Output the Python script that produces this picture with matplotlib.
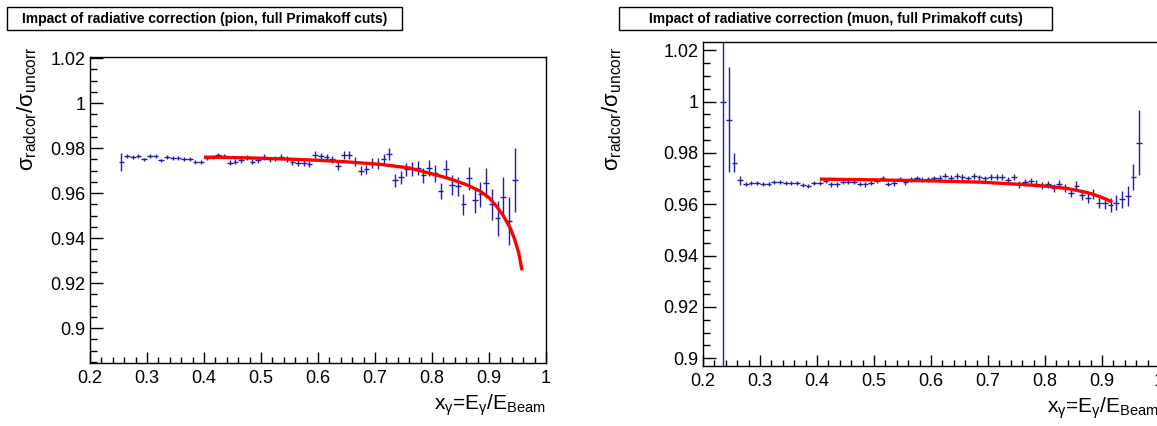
import numpy as np
import matplotlib
matplotlib.use("Agg")
import matplotlib.pyplot as plt
from matplotlib.patches import Rectangle
from matplotlib.ticker import MultipleLocator, FuncFormatter

plt.rcParams['font.family'] = ['Liberation Sans', 'DejaVu Sans']
plt.rcParams['mathtext.fontset'] = 'custom'
plt.rcParams['mathtext.rm'] = 'Liberation Sans'
plt.rcParams['mathtext.it'] = 'Liberation Sans'
plt.rcParams['mathtext.default'] = 'regular'

# ---------------- data: pion ----------------
pion_x = np.round(np.arange(0.255, 0.950, 0.01), 3)
pion_y = [
    0.9740, 0.9765, 0.9760, 0.9765, 0.9750, 0.9765, 0.9765, 0.9745, 0.9760, 0.9755,
    0.9755, 0.9750, 0.9750, 0.9740, 0.9740, 0.9755, 0.9760, 0.9770, 0.9765, 0.9735,
    0.9740, 0.9745, 0.9760, 0.9740, 0.9745, 0.9760, 0.9750, 0.9755, 0.9760, 0.9750,
    0.9740, 0.9735, 0.9735, 0.9730, 0.9770, 0.9765, 0.9760, 0.9750, 0.9720, 0.9770,
    0.9770, 0.9740, 0.9700, 0.9705, 0.9735, 0.9730, 0.9750, 0.9775, 0.9657, 0.9671,
    0.9705, 0.9708, 0.9712, 0.9679, 0.9712, 0.9688, 0.9609, 0.9705, 0.9636, 0.9631,
    0.9550, 0.9665, 0.9568, 0.9594, 0.9646, 0.9550, 0.9488, 0.9582, 0.9476, 0.9657,
]
pion_err = [
    0.0040, 0.0008, 0.0008, 0.0008, 0.0008, 0.0008, 0.0008, 0.0008, 0.0008, 0.0008,
    0.0009, 0.0009, 0.0009, 0.0009, 0.0009, 0.0010, 0.0010, 0.0010, 0.0010, 0.0010,
    0.0011, 0.0011, 0.0011, 0.0011, 0.0012, 0.0012, 0.0012, 0.0012, 0.0013, 0.0013,
    0.0013, 0.0014, 0.0014, 0.0014, 0.0015, 0.0015, 0.0016, 0.0016, 0.0017, 0.0017,
    0.0018, 0.0019, 0.0020, 0.0021, 0.0022, 0.0024, 0.0025, 0.0026, 0.0028, 0.0029,
    0.0028, 0.0030, 0.0030, 0.0032, 0.0034, 0.0038, 0.0036, 0.0044, 0.0045, 0.0042,
    0.0047, 0.0053, 0.0057, 0.0057, 0.0066, 0.0070, 0.0077, 0.0090, 0.0106, 0.0142,
]
pion_fit_x = [0.40, 0.45, 0.50, 0.55, 0.60, 0.65, 0.709, 0.76, 0.826, 0.86, 0.884,
              0.90, 0.913, 0.925, 0.937, 0.945, 0.952, 0.958]
pion_fit_y = [0.9760, 0.9758, 0.9755, 0.9751, 0.9746, 0.9739, 0.9728, 0.9712, 0.9668,
              0.9638, 0.9609, 0.9580, 0.9542, 0.9500, 0.9446, 0.9395, 0.9335, 0.9257]

# ---------------- data: muon ----------------
muon_x = np.round(np.arange(0.235, 0.970, 0.01), 3)
muon_y = [
    1.0000, 0.9930, 0.9762,
    0.9693, 0.9680, 0.9683, 0.9684, 0.9680, 0.9680, 0.9688, 0.9685, 0.9683, 0.9683,
    0.9683, 0.9676, 0.9671, 0.9684, 0.9683, 0.9689, 0.9677, 0.9677, 0.9687, 0.9688,
    0.9685, 0.9680, 0.9677, 0.9683, 0.9690, 0.9701, 0.9679, 0.9681, 0.9698, 0.9685,
    0.9697, 0.9701, 0.9696, 0.9697, 0.9701, 0.9703, 0.9712, 0.9703, 0.9710, 0.9706,
    0.9701, 0.9710, 0.9705, 0.9701, 0.9706, 0.9706, 0.9705, 0.9694, 0.9707, 0.9677,
    0.9685, 0.9692, 0.9680, 0.9673, 0.9677, 0.9663, 0.9680, 0.9663, 0.9645, 0.9673,
    0.9635, 0.9624, 0.9641, 0.9605, 0.9605, 0.9596, 0.9606, 0.9619, 0.9631, 0.9706,
    0.9840,
]
muon_err = [
    0.2000, 0.0203, 0.0038,
    0.0018, 0.0008, 0.0008, 0.0008, 0.0008, 0.0008, 0.0008, 0.0008, 0.0008, 0.0008,
    0.0008, 0.0008, 0.0008, 0.0008, 0.0008, 0.0008, 0.0008, 0.0008, 0.0008, 0.0008,
    0.0008, 0.0008, 0.0008, 0.0008, 0.0008, 0.0009, 0.0009, 0.0009, 0.0009, 0.0009,
    0.0009, 0.0009, 0.0009, 0.0009, 0.0009, 0.0010, 0.0010, 0.0010, 0.0010, 0.0010,
    0.0010, 0.0010, 0.0010, 0.0011, 0.0011, 0.0011, 0.0011, 0.0011, 0.0012, 0.0012,
    0.0012, 0.0012, 0.0013, 0.0013, 0.0013, 0.0014, 0.0014, 0.0015, 0.0015, 0.0016,
    0.0017, 0.0018, 0.0019, 0.0021, 0.0024, 0.0027, 0.0029, 0.0032, 0.0039, 0.0051,
    0.0127,
]
muon_fit_x = [0.405, 0.50, 0.60, 0.689, 0.759, 0.806, 0.84, 0.865, 0.88, 0.894, 0.905, 0.918]
muon_fit_y = [0.9698, 0.9695, 0.9691, 0.9686, 0.9677, 0.9670, 0.9661, 0.9650, 0.9642,
              0.9631, 0.9622, 0.9608]

W, H = 1157, 426
fig = plt.figure(figsize=(W / 100, H / 100), dpi=100)

xlabel = r'x$_{\gamma}$=E$_{\gamma}$/E$_{Beam}$'
ylabel = r'$\sigma_{radcor}$/$\sigma_{uncorr}$'
fmt = FuncFormatter(lambda v, p: '%g' % round(v, 3))


def make_panel(rect, ylim, x, y, err, fx, fy, title, title_rect, ylab_x):
    ax = fig.add_axes([rect[0] / W, 1 - rect[3] / H, (rect[2] - rect[0]) / W, (rect[3] - rect[1]) / H])
    ax.errorbar(x, y, xerr=0.005, yerr=err, fmt='none', ecolor='#1c1ca8',
                elinewidth=1.0, capsize=0, zorder=2)
    ax.plot(fx, fy, color='#ff0000', lw=2.4, zorder=3, solid_capstyle='butt')
    ax.set_xlim(0.2, 1.0)
    ax.set_ylim(*ylim)
    ax.xaxis.set_major_locator(MultipleLocator(0.1))
    ax.xaxis.set_minor_locator(MultipleLocator(0.02))
    ax.yaxis.set_major_locator(MultipleLocator(0.02))
    ax.yaxis.set_minor_locator(MultipleLocator(0.005))
    ax.xaxis.set_major_formatter(fmt)
    ax.yaxis.set_major_formatter(fmt)
    ax.tick_params(axis='both', which='both', direction='in', top=False, right=False,
                   labelsize=13, width=1, colors='black')
    ax.tick_params(axis='x', which='major', length=8, pad=5)
    ax.tick_params(axis='x', which='minor', length=4)
    ax.tick_params(axis='y', which='major', length=9, pad=3)
    ax.tick_params(axis='y', which='minor', length=5)
    for s in ax.spines.values():
        s.set_linewidth(1.0)
    ax.set_xlabel(xlabel, fontsize=15, loc='right', labelpad=4)
    fig.text(ylab_x / W, 1 - 46 / H, ylabel, rotation=90, fontsize=16, ha='center', va='top')
    # title box
    x0, y0, x1, y1 = title_rect
    fig.patches.append(Rectangle((x0 / W, 1 - y1 / H), (x1 - x0) / W, (y1 - y0) / H,
                                 transform=fig.transFigure, facecolor='white',
                                 edgecolor='black', lw=1.0))
    fig.text((x0 + x1) / 2 / W, 1 - (y0 + y1) / 2 / H, title, fontsize=10,
             fontweight='bold', ha='center', va='center')
    return ax


make_panel((90, 57, 546, 363), (0.8845, 1.0205), pion_x, pion_y, pion_err,
           pion_fit_x, pion_fit_y,
           'Impact of radiative correction (pion, full Primakoff cuts)',
           (7, 7, 402, 30), 27)
make_panel((703, 42, 1159, 366), (0.897, 1.0232), muon_x, muon_y, muon_err,
           muon_fit_x, muon_fit_y,
           'Impact of radiative correction (muon, full Primakoff cuts)',
           (619, 7, 1052, 30), 612)

fig.savefig('out.png', dpi=100)
